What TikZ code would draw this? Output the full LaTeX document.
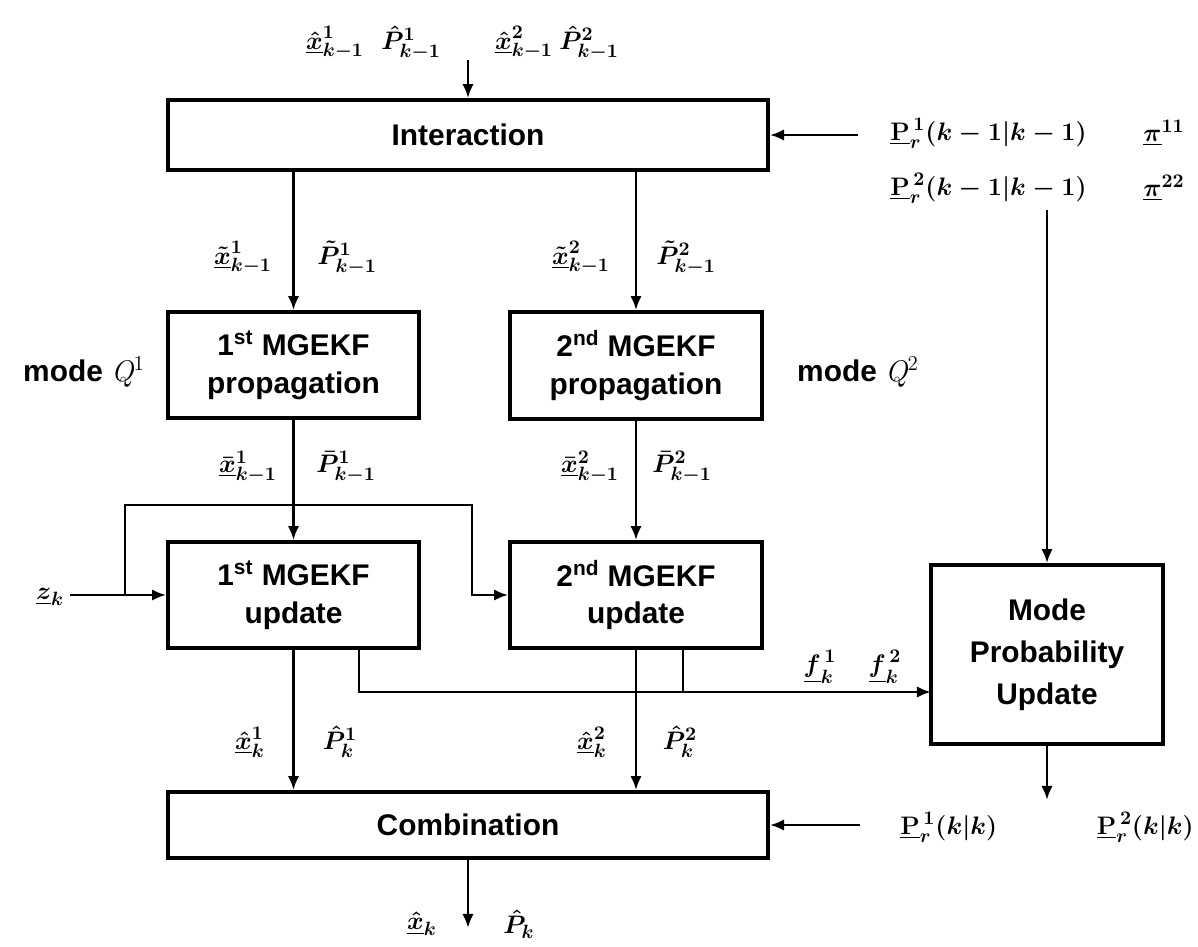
\documentclass[tikz,border=0pt]{standalone}
\usepackage{amsmath,bm}
\usepackage{fontspec}
\newfontfamily\boxfont{Liberation Sans}
\usetikzlibrary{arrows.meta}
\tikzset{
  blk/.style={draw=black, line width=2.2pt, align=center, inner sep=0pt,
    font=\boxfont\bfseries\fontsize{17}{21.5}\selectfont},
  conn/.style={line width=1.5pt},
  arr/.style={conn, -{Latex[length=8pt,width=6.5pt]}},
  lab/.style={inner sep=0pt, font=\fontsize{15.5}{18}\selectfont\boldmath},
  side/.style={inner sep=0pt, font=\boxfont\bfseries\fontsize{17}{21}\selectfont},
}
\begin{document}
\begin{tikzpicture}[x=0.2mm,y=-0.2mm]
\useasboundingbox (0,0) rectangle (1198,946);

% boxes
\node[blk, minimum width=120mm, minimum height=14mm] (inter) at (468,135) {Interaction};
\node[blk, minimum width=50.2mm, minimum height=21.2mm] (prop1) at (293.5,365) {1\textsuperscript{st} MGEKF\\propagation};
\node[blk, minimum width=50.4mm, minimum height=21.4mm] (prop2) at (636,365.5) {2\textsuperscript{nd} MGEKF\\propagation};
\node[blk, minimum width=50.2mm, minimum height=21.2mm] (upd1) at (293.5,595) {1\textsuperscript{st} MGEKF\\update};
\node[blk, minimum width=50.4mm, minimum height=21.2mm] (upd2) at (636,595) {2\textsuperscript{nd} MGEKF\\update};
\node[blk, minimum width=46.4mm, minimum height=35.8mm, font=\boxfont\bfseries\fontsize{17}{24}\selectfont] (mode) at (1047,654.5) {Mode\\Probability\\Update};
\node[blk, minimum width=120mm, minimum height=13.2mm] (comb) at (468,825) {Combination};

% labels
\node[lab] (xh1) at (335,43) {$\underline{\hat{x}}^{1}_{k-1}$};
\node[lab] (Ph1) at (411,43) {$\hat{P}^{1}_{k-1}$};
\node[lab] (xh2) at (524,43) {$\underline{\hat{x}}^{2}_{k-1}$};
\node[lab] (Ph2) at (589,43) {$\hat{P}^{2}_{k-1}$};

\node[lab, anchor=west] (Pr1) at (890,133) {$\underline{\mathbf{P}}_{r}^{\,1}(k-1|k-1)$};
\node[lab, anchor=west] (pi1) at (1143,133) {$\underline{\pi}^{11}$};
\node[lab, anchor=west] (Pr2) at (890,188) {$\underline{\mathbf{P}}_{r}^{\,2}(k-1|k-1)$};
\node[lab, anchor=west] (pi2) at (1143,188) {$\underline{\pi}^{22}$};

\node[lab] (xt1) at (243,258) {$\underline{\tilde{x}}^{1}_{k-1}$};
\node[lab] (Pt1) at (347,258) {$\tilde{P}^{1}_{k-1}$};
\node[lab] (xt2) at (581,258) {$\underline{\tilde{x}}^{2}_{k-1}$};
\node[lab] (Pt2) at (686,258) {$\tilde{P}^{2}_{k-1}$};

\node[side] (mq1) at (84,372) {mode $\mathit{Q}^{1}$};
\node[side] (mq2) at (858,372) {mode $\mathit{Q}^{2}$};

\node[lab] (xb1) at (248,467) {$\underline{\bar{x}}^{1}_{k-1}$};
\node[lab] (Pb1) at (346,467) {$\bar{P}^{1}_{k-1}$};
\node[lab] (xb2) at (590,467) {$\underline{\bar{x}}^{2}_{k-1}$};
\node[lab] (Pb2) at (682,467) {$\bar{P}^{2}_{k-1}$};

\node[lab] (zk) at (50,597) {$\underline{z}_{k}$};

\node[lab] (f1) at (820,667) {$\underline{f}^{\,1}_{k}$};
\node[lab] (f2) at (885,667) {$\underline{f}^{\,2}_{k}$};

\node[lab] (xk1) at (250,742) {$\underline{\hat{x}}^{1}_{k}$};
\node[lab] (Pk1) at (340,742) {$\hat{P}^{1}_{k}$};
\node[lab] (xk2) at (592,742) {$\underline{\hat{x}}^{2}_{k}$};
\node[lab] (Pk2) at (680,742) {$\hat{P}^{2}_{k}$};

\node[lab, anchor=west] (Pkk1) at (900,827) {$\underline{\mathbf{P}}_{r}^{\,1}(k|k)$};
\node[lab, anchor=east] (Pkk2) at (1194,827) {$\underline{\mathbf{P}}_{r}^{\,2}(k|k)$};

\node[lab] (xk) at (422,924) {$\underline{\hat{x}}_{k}$};
\node[lab] (Pk) at (519,924) {$\hat{P}_{k}$};

% coordinates
\coordinate (topin) at (468,60);
\coordinate (rin) at (858,135);
\coordinate (rv) at (1047,210);
\coordinate (b1) at (125,595);
\coordinate (fb) at (472,505);
\coordinate (u1b) at (359,648);
\coordinate (u2b) at (683,648);
\coordinate (hj) at (683,692);
\coordinate (mi) at (931,692);
\coordinate (mout) at (1047,800);
\coordinate (cin) at (860,825);
\coordinate (bout) at (468,928);
\coordinate (zs) at (70,595);

% connectors
\draw[arr] (topin) -- (inter.north);
\draw[arr] (rin) -- (inter.east);
\draw[arr] (inter.south -| prop1.north) -- (prop1.north);
\draw[arr] (inter.south -| prop2.north) -- (prop2.north);
\draw[arr] (prop1.south) -- (upd1.north);
\draw[arr] (prop2.south) -- (upd2.north);
\draw[arr] (zs) -- (upd1.west);
\draw[arr] (b1) |- (fb) |- (upd2.west);
\draw[arr] (upd1.south) -- (upd1.south |- comb.north);
\draw[arr] (upd2.south) -- (upd2.south |- comb.north);
\draw[arr] (u1b) |- (mi);
\draw[conn] (u2b) -- (hj);
\draw[arr] (rv) -- (mode.north);
\draw[arr] (mode.south) -- (mout);
\draw[arr] (cin) -- (comb.east);
\draw[arr] (comb.south) -- (bout);
\end{tikzpicture}
\end{document}
